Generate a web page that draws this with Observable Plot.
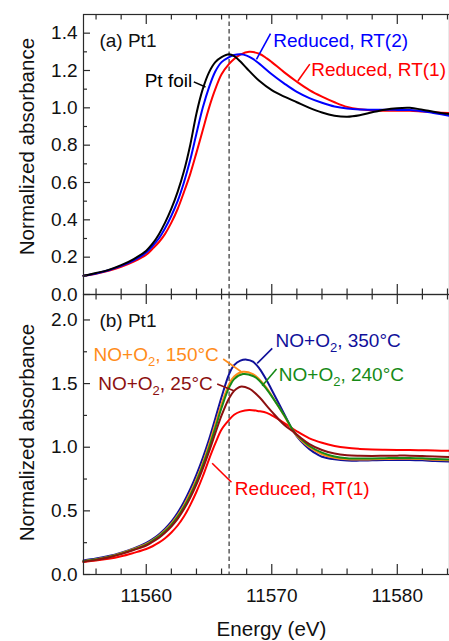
<!DOCTYPE html>
<html><head><meta charset="utf-8">
<script src="https://cdn.jsdelivr.net/npm/d3@7"></script>
<script src="https://cdn.jsdelivr.net/npm/@observablehq/plot@0.6"></script>
<style>
html,body{margin:0;padding:0;background:#fff;}
#chart{position:relative;width:449px;height:641px;overflow:hidden;font-family:"Liberation Sans",Arial,sans-serif;}
#chart svg{position:absolute;left:0;}
</style></head><body><div id="chart"></div>
<script>
// ---------- data (energy eV, normalized absorbance) ----------
const ptFoil = [[11555,0.100],[11556,0.115],[11557,0.132],[11558,0.157],[11559,0.190],[11560,0.235],[11560.5,0.272],[11561,0.322],[11561.5,0.385],[11562,0.460],[11562.5,0.550],[11563,0.660],[11563.5,0.800],[11564,0.970],[11564.5,1.100],[11565,1.190],[11565.5,1.245],[11566,1.272],[11566.6,1.287],[11567,1.277],[11567.5,1.248],[11568,1.212],[11569,1.145],[11570,1.095],[11571,1.060],[11572,1.030],[11573,1.000],[11574,0.975],[11575,0.958],[11576,0.952],[11577,0.960],[11578,0.976],[11579,0.990],[11580,0.998],[11581,1.000],[11582,0.990],[11583,0.978],[11584.2,0.966]];
const reducedRT2 = [[11555,0.100],[11556,0.113],[11557,0.130],[11558,0.153],[11559,0.183],[11560,0.225],[11560.5,0.260],[11561,0.300],[11561.5,0.355],[11562,0.422],[11562.5,0.500],[11563,0.600],[11563.5,0.720],[11564,0.862],[11564.5,1.000],[11565,1.110],[11565.5,1.195],[11566,1.245],[11566.6,1.272],[11567,1.283],[11567.5,1.287],[11568,1.280],[11568.5,1.262],[11569,1.237],[11570,1.180],[11571,1.130],[11572,1.085],[11573,1.052],[11574,1.027],[11575,1.007],[11576,0.996],[11577,0.991],[11578,0.990],[11579,0.990],[11580,0.989],[11581,0.988],[11582,0.982],[11583,0.971],[11584.2,0.957]];
const reducedRT1a = [[11555,0.100],[11556,0.111],[11557,0.127],[11558,0.148],[11559,0.176],[11560,0.213],[11560.5,0.245],[11561,0.280],[11561.5,0.325],[11562,0.385],[11562.5,0.458],[11563,0.548],[11563.5,0.645],[11564,0.760],[11564.5,0.880],[11565,1.000],[11565.5,1.100],[11566,1.180],[11566.6,1.235],[11567,1.262],[11567.5,1.285],[11568.2,1.300],[11569,1.290],[11569.6,1.265],[11570,1.245],[11571,1.190],[11572,1.140],[11573,1.095],[11574,1.060],[11575,1.030],[11576,1.005],[11577,0.992],[11578,0.986],[11579,0.984],[11580,0.984],[11581,0.984],[11582,0.980],[11583,0.976],[11584.2,0.972]];

const reducedRT1b = [[11555,0.098],[11556,0.110],[11557,0.123],[11558,0.143],[11559,0.170],[11560,0.200],[11560.5,0.222],[11561,0.250],[11561.5,0.285],[11562,0.330],[11562.5,0.385],[11563,0.455],[11563.5,0.545],[11564,0.650],[11564.5,0.770],[11565,0.905],[11565.5,1.030],[11566,1.140],[11566.6,1.215],[11567,1.255],[11567.5,1.280],[11568.2,1.293],[11569,1.283],[11569.6,1.270],[11570,1.250],[11571,1.190],[11572,1.125],[11573,1.070],[11574,1.035],[11575,1.010],[11576,0.995],[11577,0.987],[11578,0.982],[11579,0.980],[11580,0.979],[11581,0.978],[11582,0.976],[11583,0.974],[11584.2,0.972]];
const no2_25C = [[11555,0.100],[11556,0.115],[11557,0.134],[11558,0.160],[11559,0.192],[11560,0.228],[11560.5,0.256],[11561,0.288],[11561.5,0.328],[11562,0.377],[11562.5,0.437],[11563,0.512],[11563.5,0.602],[11564,0.708],[11564.5,0.830],[11565,0.965],[11565.5,1.110],[11566,1.250],[11566.6,1.385],[11567,1.443],[11567.5,1.476],[11568.2,1.460],[11569,1.395],[11569.6,1.325],[11570,1.280],[11571,1.175],[11571.75,1.120],[11572.3,1.075],[11573,1.025],[11574,0.978],[11575,0.950],[11576,0.937],[11577,0.933],[11578,0.932],[11579,0.933],[11580,0.934],[11581,0.934],[11582,0.931],[11583,0.927],[11584.2,0.923]];
const no2_150C = [[11555,0.105],[11556,0.120],[11557,0.140],[11558,0.167],[11559,0.200],[11560,0.240],[11560.5,0.270],[11561,0.305],[11561.5,0.348],[11562,0.400],[11562.5,0.465],[11563,0.545],[11563.5,0.640],[11564,0.750],[11564.5,0.875],[11565,1.020],[11565.5,1.180],[11566,1.340],[11566.6,1.495],[11567,1.555],[11567.7,1.593],[11568.5,1.575],[11569,1.535],[11569.6,1.465],[11570,1.405],[11571,1.245],[11571.75,1.120],[11572.3,1.058],[11573,1.000],[11574,0.945],[11575,0.917],[11576,0.905],[11577,0.903],[11578,0.905],[11579,0.908],[11580,0.910],[11581,0.910],[11582,0.907],[11583,0.902],[11584.2,0.897]];
const no2_240C = [[11555,0.105],[11556,0.118],[11557,0.138],[11558,0.164],[11559,0.197],[11560,0.235],[11560.5,0.265],[11561,0.298],[11561.5,0.340],[11562,0.390],[11562.5,0.453],[11563,0.530],[11563.5,0.622],[11564,0.730],[11564.5,0.855],[11565,0.995],[11565.5,1.150],[11566,1.310],[11566.6,1.470],[11567,1.535],[11567.7,1.575],[11568.5,1.560],[11569,1.525],[11569.6,1.455],[11570,1.400],[11571,1.250],[11571.75,1.125],[11572.3,1.068],[11573,1.010],[11574,0.957],[11575,0.927],[11576,0.914],[11577,0.911],[11578,0.912],[11579,0.914],[11580,0.916],[11581,0.916],[11582,0.913],[11583,0.908],[11584.2,0.903]];
const no2_350C = [[11555,0.110],[11556,0.125],[11557,0.145],[11558,0.172],[11559,0.205],[11560,0.248],[11560.5,0.278],[11561,0.315],[11561.5,0.360],[11562,0.415],[11562.5,0.485],[11563,0.570],[11563.5,0.670],[11564,0.785],[11564.5,0.915],[11565,1.060],[11565.5,1.225],[11566,1.395],[11566.6,1.575],[11567,1.645],[11567.5,1.680],[11568,1.688],[11568.5,1.672],[11569,1.620],[11569.6,1.525],[11570,1.450],[11571,1.260],[11571.75,1.120],[11572.3,1.050],[11573,0.985],[11573.6,0.945],[11574,0.925],[11575,0.905],[11576,0.895],[11577,0.895],[11578,0.897],[11579,0.899],[11580,0.900],[11581,0.900],[11582,0.897],[11583,0.892],[11584.2,0.888]];

const edgeEnergy = [11566.6];
const xDomain = [11555, 11584.16];
const xMajor = [11560, 11570, 11580];
const xMinor = [11556, 11558, 11562, 11564, 11566, 11568, 11572, 11574, 11576, 11578, 11582, 11584];
const yMajorA = [0, 0.2, 0.4, 0.6, 0.8, 1.0, 1.2, 1.4];
const yMinorA = [0.1, 0.3, 0.5, 0.7, 0.9, 1.1, 1.3];
const yMajorB = [0, 0.5, 1.0, 1.5, 2.0];
const yMinorB = [0.25, 0.75, 1.25, 1.75];

const labelsA = [
  {key: "axis", text: "(a) Pt1", x: 11556.27, y: 1.326, anchor: "start"},
  {key: "foil", text: "Pt foil", x: 11563.66, y: 1.109, anchor: "end"},
  {key: "rt2", text: "Reduced, RT(2)", x: 11570.12, y: 1.326, anchor: "start"},
  {key: "rt1", text: "Reduced, RT(1)", x: 11573.14, y: 1.171, anchor: "start"}
];
const leadersA = [
  {key: "foil", x1: 11563.79, y1: 1.139, x2: 11564.72, y2: 1.112},
  {key: "rt2", x1: 11569.90, y1: 1.397, x2: 11568.78, y2: 1.260},
  {key: "rt1", x1: 11573.03, y1: 1.234, x2: 11572.08, y2: 1.144}
];
const labelsB = [
  {key: "axis", text: "(b) Pt1", x: 11556.27, y: 1.947, anchor: "start"},
  {key: "n350", text: "NO+O₂, 350°C", x: 11570.30, y: 1.784, anchor: "start"},
  {key: "n150", text: "NO+O₂, 150°C", x: 11565.78, y: 1.680, anchor: "end"},
  {key: "n240", text: "NO+O₂, 240°C", x: 11570.56, y: 1.523, anchor: "start"},
  {key: "n25", text: "NO+O₂, 25°C", x: 11565.30, y: 1.450, anchor: "end"},
  {key: "rt1", text: "Reduced, RT(1)", x: 11567.06, y: 0.628, anchor: "start"}
];
const leadersB = [
  {key: "n350", x1: 11570.04, y1: 1.777, x2: 11568.84, y2: 1.659},
  {key: "n150", x1: 11566.13, y1: 1.693, x2: 11567.57, y2: 1.593},
  {key: "n240", x1: 11570.38, y1: 1.614, x2: 11569.24, y2: 1.483},
  {key: "n25", x1: 11565.65, y1: 1.497, x2: 11566.98, y2: 1.444},
  {key: "rt1", x1: 11565.25, y1: 0.874, x2: 11566.79, y2: 0.725}
];

// ---------- styles ----------
const colors = {axis: "#111111", foil: "#000000", rt2: "#0000ff", rt1: "#ff0000",
  n25: "#8c1010", n150: "#ff8c1a", n240: "#168a16", n350: "#10109a"};
const frameColor = "#2a2a2a";
const W = 449, ML = 83, MR = 0;

function panel({height, mt, mb, yDomain, series, yMajor, yMinor, labels, leaders, withXAxis, yLabelDy}) {
  const fh = height - mt - mb, fw = W - ML - MR;
  const tk = {stroke: frameColor, strokeWidth: 1.2};
  const marks = [
    Plot.ruleX(edgeEnergy, {x: d => d, stroke: "#333", strokeWidth: 1.2, strokeDasharray: "4.5,3"}),
    ...series.map(s => Plot.line(s.data, {x: d => d[0], y: d => d[1], stroke: colors[s.key], strokeWidth: 2, curve: "catmull-rom"})),
    ...leaders.map(l => Plot.link([l], {x1: "x1", y1: "y1", x2: "x2", y2: "y2", stroke: colors[l.key], strokeWidth: 1.6})),
    ...labels.map(l => Plot.text([l], {x: "x", y: "y", text: "text", textAnchor: l.anchor, lineAnchor: "bottom", fontSize: 19, fill: colors[l.key]})),
    Plot.frame({stroke: frameColor, strokeWidth: 1.2}),
    Plot.tickX(xMajor, {x: d => d, insetTop: fh - 10, ...tk}),
    Plot.tickX(xMajor, {x: d => d, insetBottom: fh - 10, ...tk}),
    Plot.tickX(xMinor, {x: d => d, insetTop: fh - 5.5, ...tk}),
    Plot.tickX(xMinor, {x: d => d, insetBottom: fh - 5.5, ...tk}),
    Plot.tickY(yMajor, {y: d => d, insetRight: fw - 7, ...tk}),
    Plot.tickY(yMinor, {y: d => d, insetRight: fw - 4, ...tk}),
    Plot.axisY(yMajor, {tickSize: 0, tickPadding: 6, fontSize: 19, tickFormat: d3.format(".1f"), label: null, fill: "#111"}),
    Plot.text(["Normalized absorbance"], {text: d => d, frameAnchor: "left", rotate: -90, dx: -50, dy: yLabelDy, textAnchor: "middle", lineAnchor: "bottom", fontSize: 20.6, fill: "#111"})
  ];
  if (withXAxis) {
    marks.push(Plot.axisX(xMajor, {tickSize: 0, tickPadding: 14, fontSize: 19, tickFormat: d => String(d), label: null, fill: "#111"}));
    marks.push(Plot.text(["Energy (eV)"], {text: d => d, frameAnchor: "bottom", dx: 5, dy: 61, textAnchor: "middle", lineAnchor: "bottom", fontSize: 20.6, fill: "#111"}));
  }
  return Plot.plot({
    width: W, height, marginLeft: ML, marginRight: MR, marginTop: mt, marginBottom: mb,
    x: {domain: xDomain, ...(withXAxis ? {} : {axis: null})},
    y: {domain: yDomain},
    style: {background: "transparent", overflow: "visible", fontFamily: "'Liberation Sans', Arial, sans-serif", color: "#111"},
    marks
  });
}

function subscript(svg) {
  svg.querySelectorAll("text").forEach(t => {
    if (!t.textContent.includes("₂") || t.children.length) return;
    const [a, b] = t.textContent.split("₂");
    t.textContent = "";
    const ns = "http://www.w3.org/2000/svg";
    const s1 = document.createElementNS(ns, "tspan"); s1.textContent = a;
    const s2 = document.createElementNS(ns, "tspan"); s2.textContent = "2"; s2.setAttribute("dy", "5"); s2.setAttribute("font-size", "13");
    const s3 = document.createElementNS(ns, "tspan"); s3.textContent = b; s3.setAttribute("dy", "-5");
    t.append(s1, s2, s3);
  });
}

const topPlot = panel({height: 300, mt: 14, mb: 6, yDomain: [0, 1.5],
  series: [{key: "rt1", data: reducedRT1a}, {key: "rt2", data: reducedRT2}, {key: "foil", data: ptFoil}],
  yMajor: yMajorA, yMinor: yMinorA, labels: labelsA, leaders: leadersA, withXAxis: false, yLabelDy: -8});
const bottomPlot = panel({height: 351, mt: 4, mb: 67, yDomain: [0, 2.2],
  series: [{key: "rt1", data: reducedRT1b}, {key: "n350", data: no2_350C}, {key: "n150", data: no2_150C}, {key: "n240", data: no2_240C}, {key: "n25", data: no2_25C}],
  yMajor: yMajorB, yMinor: yMinorB, labels: labelsB, leaders: leadersB, withXAxis: true, yLabelDy: -2});
topPlot.style.top = "0px";
bottomPlot.style.top = "290px";
subscript(bottomPlot);
document.getElementById("chart").append(bottomPlot, topPlot);
</script></body></html>
